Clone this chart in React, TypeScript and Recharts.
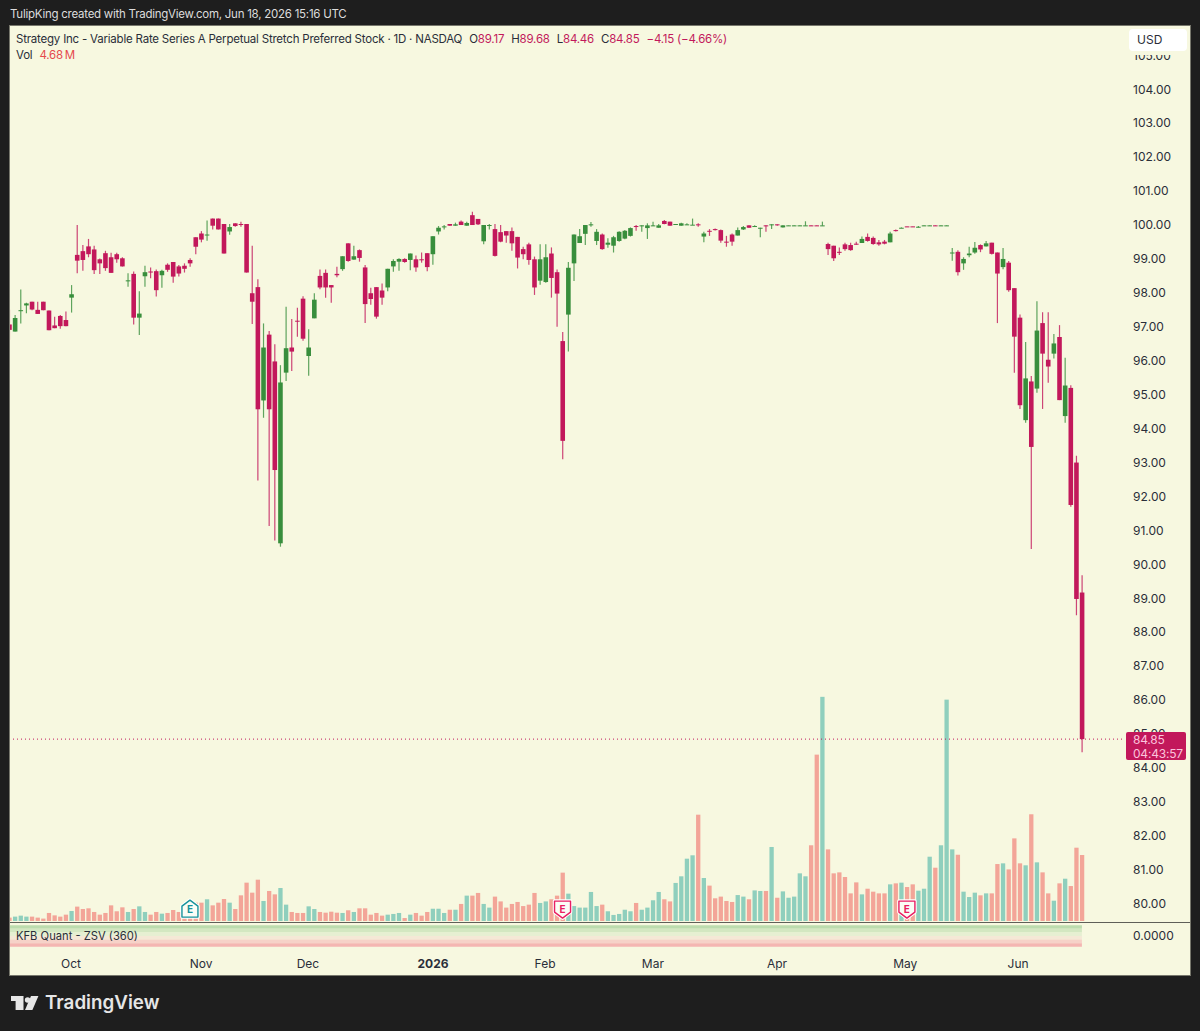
import { Area, Bar, ComposedChart, ReferenceDot, ReferenceLine, XAxis, YAxis } from "recharts";

const opens = [
    97.07, 96.86, 97.47, 97.63, 97.74, 97.5, 97.74, 97.48, 97.04, 97.32,
    97.2, 97.86, 99.12, 99.23, 99.37, 99.28, 98.99, 99.17, 99.05, 99.14,
    99.02, 98.34, 98.56, 97.27, 98.49, 98.63, 98.64, 98.52, 98.83, 98.91,
    98.78, 98.8, 98.97, 99.64, 99.75, 99.7, 100.19, 100.19, 100.03, 99.81,
    100.05, 100.03, 100.03, 97.99, 98.17, 94.83, 96.77, 95.98, 90.62, 95.65,
    96.39, 97.18, 97.83, 96.14, 97.25, 98.5, 98.59, 98.23, 98.56, 98.7,
    99.46, 98.98, 99.26, 98.75, 97.99, 98.17, 98.07, 98.16, 98.78, 98.92,
    99.0, 98.97, 98.99, 98.99, 99.17, 99.14, 99.81, 99.95, 100.03, 99.98,
    100.1, 99.98, 100.29, 100.18, 99.52, 99.99, 99.88, 99.79, 99.82, 99.82,
    99.65, 99.29, 99.43, 98.99, 98.36, 98.32, 99.16, 98.61, 96.58, 97.36,
    98.87, 99.47, 99.74, 100.0, 99.53, 99.72, 99.42, 99.39, 99.53, 99.6,
    99.68, 99.97, 99.97, 99.91, 99.97, 99.92, 100.12, 100.1, 100.01, 99.98,
    100.0, 100.0, 100.02, 99.66, 99.83, 99.88, 99.85, 99.51, 99.72, 99.69,
    99.87, 99.99, 99.96, 99.91, 99.99, 100.0, 100.02, 99.93, 99.98, 99.98,
    99.98, 99.98, 99.99, 99.99, 99.98, 99.44, 99.39, 99.21, 99.43, 99.41,
    99.45, 99.47, 99.65, 99.62, 99.49, 99.51, 99.49, 99.85, 99.91, 99.96,
    99.96, 99.94, 99.98, 99.98, 99.99, 99.98, 99.98, 99.17, 99.21, 98.87,
    99.11, 99.19, 99.41, 99.37, 99.48, 99.19, 98.76, 98.89, 98.14, 97.27,
    94.25, 95.39, 95.18, 97.11, 96.03, 96.21, 96.7, 94.37, 95.2, 93.0, 89.17,
];

const closes = [
    96.91, 97.26, 97.49, 97.69, 97.51, 97.38, 97.49, 96.9, 96.96, 97.02,
    97.02, 97.96, 98.95, 98.97, 99.14, 98.67, 98.87, 98.73, 98.59, 98.99,
    98.78, 98.37, 97.27, 97.39, 98.61, 98.6, 98.08, 98.65, 98.68, 98.48,
    98.57, 98.71, 98.87, 99.36, 99.57, 99.72, 99.98, 99.87, 99.16, 99.94,
    99.97, 100.0, 98.6, 97.74, 94.57, 96.39, 94.57, 92.78, 95.36, 96.37,
    96.27, 97.16, 96.65, 96.39, 97.8, 98.16, 98.16, 98.16, 98.52, 99.08,
    98.94, 99.08, 99.03, 97.67, 97.82, 97.3, 97.86, 98.71, 98.94, 99.0,
    98.91, 99.16, 98.75, 98.97, 98.76, 99.67, 99.92, 99.96, 99.98, 100.02,
    100.0, 100.06, 100.0, 100.02, 100.0, 100.0, 99.09, 99.51, 99.69, 99.46,
    99.04, 99.14, 98.97, 98.16, 98.99, 99.05, 98.44, 97.98, 93.64, 98.74,
    99.72, 99.67, 100.0, 100.02, 99.8, 99.29, 99.48, 99.64, 99.8, 99.83,
    99.91, 99.95, 99.99, 99.99, 99.99, 99.99, 100.03, 99.98, 100.03, 100.05,
    100.02, 100.01, 100.0, 99.75, 99.81, 99.85, 99.54, 99.49, 99.51, 99.85,
    99.94, 99.92, 99.97, 99.92, 99.97, 100.02, 100.0, 99.99, 99.99, 99.99,
    99.99, 99.99, 99.98, 99.98, 99.99, 99.29, 99.02, 99.19, 99.29, 99.26,
    99.42, 99.59, 99.53, 99.44, 99.43, 99.45, 99.75, 99.83, 99.92, 99.95,
    99.95, 99.95, 99.99, 99.99, 99.98, 99.99, 99.99, 99.19, 98.61, 99.0,
    99.16, 99.33, 99.28, 99.46, 99.15, 98.57, 99.0, 98.08, 96.71, 94.69,
    95.48, 93.46, 96.89, 96.21, 95.83, 96.51, 94.84, 95.27, 91.75, 88.98, 84.85,
];

const highs = [
    97.5, 97.35, 98.1, 97.71, 97.74, 97.74, 97.74, 97.48, 97.3, 97.35,
    97.45, 98.23, 100.0, 99.41, 99.59, 99.39, 99.01, 99.24, 99.18, 99.18,
    99.05, 98.58, 98.63, 98.05, 98.8, 98.75, 98.69, 98.68, 98.87, 98.91,
    98.82, 98.87, 99.02, 99.64, 99.82, 100.13, 100.19, 100.19, 100.03, 100.03,
    100.05, 100.1, 100.03, 99.39, 98.4, 97.1, 96.88, 96.49, 95.87, 97.59,
    97.23, 97.56, 97.9, 96.93, 97.99, 98.69, 98.69, 98.23, 98.77, 99.08,
    99.46, 99.39, 99.28, 98.82, 98.15, 98.17, 98.28, 98.71, 98.99, 99.02,
    99.02, 99.16, 99.1, 99.19, 99.17, 99.67, 99.97, 100.0, 100.03, 100.07,
    100.13, 100.1, 100.39, 100.18, 100.0, 100.03, 100.03, 100.0, 99.82, 99.93,
    99.65, 99.36, 99.48, 99.07, 99.43, 99.43, 99.34, 98.69, 96.85, 98.91,
    99.72, 99.88, 100.0, 100.09, 99.88, 99.75, 99.61, 99.68, 99.82, 99.85,
    99.93, 100.0, 99.99, 100.05, 100.1, 100.03, 100.15, 100.1, 100.03, 100.07,
    100.05, 100.19, 100.05, 99.8, 99.88, 99.9, 99.87, 99.68, 99.75, 99.93,
    99.97, 99.99, 99.99, 99.92, 99.99, 100.02, 100.02, 99.99, 99.99, 99.99,
    99.99, 100.11, 99.99, 99.99, 100.1, 99.48, 99.39, 99.34, 99.48, 99.48,
    99.51, 99.66, 99.75, 99.66, 99.56, 99.56, 99.8, 99.87, 99.93, 99.96,
    99.96, 99.97, 99.99, 99.99, 99.99, 99.99, 99.99, 99.32, 99.26, 99.05,
    99.36, 99.5, 99.43, 99.53, 99.48, 99.19, 99.32, 98.94, 98.14, 97.36,
    96.55, 95.55, 97.75, 97.43, 97.43, 96.79, 97.05, 96.09, 95.28, 93.2, 89.68,
];

const lows = [
    96.62, 96.86, 97.1, 97.4, 97.49, 97.38, 97.49, 96.9, 96.96, 96.94,
    97.02, 97.42, 98.58, 98.65, 99.05, 98.56, 98.56, 98.65, 98.59, 98.89,
    98.78, 98.18, 97.07, 96.76, 98.18, 98.43, 97.89, 98.15, 98.62, 98.3,
    98.48, 98.6, 98.77, 99.14, 99.49, 99.54, 99.87, 99.87, 99.16, 99.71,
    99.95, 99.95, 98.6, 97.08, 92.47, 94.32, 91.13, 90.7, 90.52, 95.4,
    95.7, 96.71, 96.59, 95.56, 97.25, 98.11, 97.86, 97.71, 98.46, 98.65,
    98.92, 98.98, 98.92, 97.11, 97.65, 97.24, 97.65, 98.05, 98.62, 98.65,
    98.89, 98.67, 98.62, 98.89, 98.64, 98.83, 99.72, 99.87, 99.98, 99.98,
    100.0, 99.98, 100.0, 100.0, 99.43, 99.87, 99.07, 99.49, 99.48, 99.24,
    98.72, 98.99, 98.83, 97.94, 98.24, 98.3, 97.86, 97.0, 93.1, 96.27,
    98.35, 99.47, 99.41, 99.95, 99.41, 99.27, 99.33, 99.19, 99.51, 99.58,
    99.66, 99.83, 99.8, 99.59, 99.97, 99.92, 100.02, 99.98, 100.01, 99.98,
    100.0, 100.0, 99.95, 99.49, 99.68, 99.84, 99.48, 99.36, 99.39, 99.69,
    99.85, 99.92, 99.95, 99.64, 99.8, 99.88, 99.98, 99.93, 99.98, 99.98,
    99.98, 99.98, 99.98, 99.98, 99.98, 99.12, 98.94, 99.12, 99.24, 99.24,
    99.42, 99.47, 99.51, 99.42, 99.39, 99.43, 99.49, 99.81, 99.91, 99.95,
    99.95, 99.93, 99.98, 99.98, 99.98, 99.98, 99.98, 98.95, 98.51, 98.68,
    99.05, 99.15, 99.2, 99.37, 99.13, 97.11, 98.7, 98.03, 95.65, 94.58,
    94.17, 90.45, 95.06, 94.58, 95.35, 96.07, 94.84, 94.17, 91.7, 88.5, 84.46,
];

// volume in millions of shares
const volumes = [
    0.24, 0.31, 0.38, 0.31, 0.31, 0.24, 0.17, 0.57, 0.4, 0.31,
    0.45, 0.71, 1.02, 0.85, 0.9, 0.64, 0.45, 0.57, 1.11, 0.69,
    0.97, 0.64, 0.85, 1.04, 0.64, 0.45, 0.64, 0.52, 0.57, 0.78,
    0.64, 0.47, 0.87, 1.3, 1.3, 1.54, 1.11, 1.3, 1.56, 1.3,
    0.85, 1.82, 2.72, 2.01, 2.93, 1.42, 2.13, 1.89, 2.34, 1.16,
    0.64, 0.57, 0.57, 1.04, 0.85, 0.64, 0.59, 0.66, 0.59, 0.57,
    0.76, 0.64, 0.9, 0.9, 0.45, 0.57, 0.38, 0.45, 0.5, 0.57,
    0.21, 0.45, 0.57, 0.38, 0.64, 0.87, 0.87, 0.57, 0.8, 0.8,
    1.21, 1.8, 1.8, 1.99, 1.21, 0.95, 1.73, 1.39, 0.95, 1.21,
    1.35, 1.06, 1.16, 1.99, 1.28, 1.39, 1.54, 1.8, 3.43, 1.94,
    1.06, 0.95, 0.95, 2.06, 1.06, 1.16, 0.69, 0.43, 0.5, 0.8,
    0.69, 1.28, 0.8, 0.95, 1.47, 2.06, 1.54, 1.39, 2.7, 3.17,
    4.42, 4.66, 7.54, 3.05, 2.51, 1.61, 1.73, 1.42, 1.35, 1.84,
    1.73, 1.54, 2.17, 2.13, 2.13, 5.25, 1.65, 2.1, 1.65, 1.73,
    3.38, 3.17, 5.37, 11.8, 15.9, 5.08, 3.38, 3.45, 3.12, 1.96,
    2.74, 1.89, 2.29, 2.08, 1.96, 1.96, 2.6, 2.67, 2.72, 2.41,
    2.6, 2.15, 2.29, 4.56, 3.78, 5.37, 15.7, 5.08, 4.7, 2.08,
    1.7, 2.01, 1.82, 1.96, 1.96, 4.04, 4.09, 3.66, 5.86, 4.09,
    3.95, 7.57, 4.16, 3.45, 1.96, 1.44, 2.67, 3.0, 2.48, 5.2, 4.68,
];

const priceTicks = [80, 81, 82, 83, 84, 85, 86, 87, 88, 89, 90, 91, 92, 93, 94, 95, 96, 97, 98, 99, 100, 101, 102, 103, 104, 105];
const monthLabels = ["Oct", "Nov", "Dec", "2026", "Feb", "Mar", "Apr", "May", "Jun"];
const monthBars = [10.93, 33.96, 52.9, 75.06, 94.9, 114, 136, 158.7, 178.7];
const earningsBars = [32, 98, 159];
const lastClose = 84.85;

// ZSV zones, top to bottom
const zsvEdges = [3, 2, 1, 0, -1, -2, -3];
const zsvColors = ["#bcdcae", "#d3e7c1", "#e6efd2", "#f4e8d6", "#f6d2c8", "#f4b6b2"];

const UP = "#388e3c";
const DOWN = "#c2185b";
const BG = "#f7f8e0";
const TEXT = "#2a2e39";
const FONT = "Inter, 'Noto Sans', sans-serif";

const candles = opens.map((open, i) => ({
    i,
    open,
    close: closes[i],
    high: highs[i],
    low: lows[i],
    volume: volumes[i],
}));

const zsvRows = candles.map(({ i }) => {
    const row: Record<string, number | number[]> = { i };
    zsvColors.forEach((_, z) => {
        row[`z${z}`] = [zsvEdges[z + 1], zsvEdges[z]];
    });
    return row;
});

function Candle(props: any) {
    const { x, y, width, height, payload } = props;
    const { open, close, high, low } = payload;
    const color = close >= open ? UP : DOWN;
    const span = high - low || 1;
    const yOf = (p: number) => y + ((high - p) / span) * height;
    const bodyTop = yOf(Math.max(open, close));
    const bodyH = Math.max(yOf(Math.min(open, close)) - bodyTop, 1);
    const cx = x + width / 2;
    return (
        <g>
            <line x1={cx} x2={cx} y1={y} y2={y + height} stroke={color} strokeOpacity={0.8} strokeWidth={1.2} />
            <rect x={cx - 2.3} y={bodyTop} width={4.6} height={bodyH} fill={color} />
        </g>
    );
}

function VolumeBar(props: any) {
    const { x, y, width, height, payload } = props;
    const fill = payload.close >= payload.open ? "#8fcfbd" : "#f3a598";
    return <rect x={x + width / 2 - 2.15} y={y} width={4.3} height={height} fill={fill} />;
}

function EarningsMark({ cx, cy, up }: any) {
    const color = up ? "#17929b" : "#e91e63";
    const d = up
        ? `M${cx - 8} ${cy - 3} L${cx} ${cy - 9} L${cx + 8} ${cy - 3} V${cy + 8} H${cx - 8} Z`
        : `M${cx - 8} ${cy - 8} H${cx + 8} V${cy + 3} L${cx} ${cy + 9} L${cx - 8} ${cy + 3} Z`;
    return (
        <g>
            <path d={d} fill="none" stroke="#ffffff" strokeWidth={3.5} strokeLinejoin="round" />
            <path d={d} fill="#fbfdf6" stroke={color} strokeWidth={1.4} strokeLinejoin="round" />
            <text x={cx} y={cy + 4} textAnchor="middle" fontFamily={FONT} fontSize={10} fontWeight={700} fill={color}>
                E
            </text>
        </g>
    );
}

function MonthTick({ x, y, payload }: any) {
    const label = monthLabels[monthBars.indexOf(payload.value)];
    return (
        <text
            x={x}
            y={y + 19}
            textAnchor="middle"
            fontFamily={FONT}
            fontSize={12}
            fontWeight={label === "2026" ? 700 : 400}
            fill={TEXT}
        >
            {label}
        </text>
    );
}

const xDomain = [0.124, 197.1];

export default function App() {
    return (
        <div style={{ position: "absolute", left: 0, top: 0, width: 1200, height: 1031, background: "#1e1e1e", overflow: "hidden", fontFamily: FONT }}>
            <div style={{ position: "absolute", left: 10, top: 7, fontSize: 11.5, letterSpacing: -0.25, color: "#dcdcdc", whiteSpace: "nowrap" }}>
                TulipKing created with TradingView.com, Jun 18, 2026 15:16 UTC
            </div>

            <div style={{ position: "absolute", left: 9, top: 25, width: 1180, height: 949, background: BG, border: "1px solid #77776c" }} />

            <div style={{ position: "absolute", left: 10, top: 26 }}>
                <ComposedChart width={1180} height={895} data={candles} margin={{ top: 0, right: 0, bottom: 0, left: 0 }}>
                    <XAxis dataKey="i" type="number" domain={xDomain} allowDataOverflow hide />
                    <XAxis xAxisId="vol" dataKey="i" type="number" domain={xDomain} allowDataOverflow hide />
                    <YAxis
                        orientation="right"
                        width={68}
                        domain={[79.49, 105.865]}
                        ticks={priceTicks}
                        interval={0}
                        allowDataOverflow
                        axisLine={false}
                        tickLine={false}
                        tickSize={0}
                        tickMargin={11}
                        tickFormatter={(v: number) => v.toFixed(2)}
                        tick={{ fontSize: 12, fill: TEXT, fontFamily: FONT }}
                    />
                    <YAxis yAxisId="vol" domain={[0, 63.48]} hide />
                    <Bar xAxisId="vol" yAxisId="vol" dataKey="volume" barSize={4} shape={VolumeBar} isAnimationActive={false} />
                    <ReferenceLine y={lastClose} stroke={DOWN} strokeWidth={1} strokeDasharray="1 3" />
                    <Bar dataKey={(d: any) => [d.low, d.high]} barSize={4} shape={Candle} isAnimationActive={false} />
                    {earningsBars.map((bar, n) => (
                        <ReferenceDot
                            key={bar}
                            x={bar}
                            y={79.84}
                            ifOverflow="visible"
                            shape={(p: any) => <EarningsMark cx={p.cx} cy={p.cy} up={n === 0} />}
                        />
                    ))}
                </ComposedChart>
            </div>

            <div style={{ position: "absolute", left: 10, top: 922, width: 1180, height: 1, background: "#5f5f58" }} />

            <div style={{ position: "absolute", left: 10, top: 922 }}>
                <ComposedChart width={1180} height={53} data={zsvRows} margin={{ top: 0, right: 0, bottom: 0, left: 0 }}>
                    <XAxis
                        dataKey="i"
                        type="number"
                        domain={xDomain}
                        allowDataOverflow
                        height={28}
                        ticks={monthBars}
                        interval={0}
                        axisLine={false}
                        tickLine={false}
                        tickSize={0}
                        tick={MonthTick}
                    />
                    <YAxis
                        orientation="right"
                        width={68}
                        domain={[-3.06, 3.89]}
                        ticks={[0]}
                        interval={0}
                        axisLine={false}
                        tickLine={false}
                        tickSize={0}
                        tickMargin={11}
                        tickFormatter={(v: number) => v.toFixed(4)}
                        tick={{ fontSize: 12, fill: TEXT, fontFamily: FONT }}
                    />
                    {zsvColors.map((color, z) => (
                        <Area key={color} dataKey={`z${z}`} type="linear" stroke="none" fill={color} fillOpacity={1} dot={false} activeDot={false} isAnimationActive={false} />
                    ))}
                </ComposedChart>
            </div>

            <div style={{ position: "absolute", left: 16, top: 929, fontSize: 11.2, color: TEXT, whiteSpace: "nowrap" }}>KFB Quant - ZSV (360)</div>

            <div style={{ position: "absolute", left: 16, top: 32, fontSize: 11.5, letterSpacing: -0.21, color: TEXT, whiteSpace: "nowrap", lineHeight: "14px" }}>
                Strategy Inc - Variable Rate Series A Perpetual Stretch Preferred Stock · 1D · NASDAQ
                <span style={{ marginLeft: 7 }}>O</span>
                <span style={{ color: DOWN }}>89.17</span>
                <span style={{ marginLeft: 7 }}>H</span>
                <span style={{ color: DOWN }}>89.68</span>
                <span style={{ marginLeft: 7 }}>L</span>
                <span style={{ color: DOWN }}>84.46</span>
                <span style={{ marginLeft: 7 }}>C</span>
                <span style={{ color: DOWN }}>84.85</span>
                <span style={{ color: DOWN, marginLeft: 7 }}>−4.15 (−4.66%)</span>
            </div>
            <div style={{ position: "absolute", left: 16, top: 48, fontSize: 11.5, letterSpacing: -0.2, color: TEXT, whiteSpace: "nowrap", lineHeight: "14px" }}>
                Vol<span style={{ color: "#e5484d", marginLeft: 7 }}>4.68{"\u2009"}M</span>
            </div>

            <div style={{ position: "absolute", left: 1125, top: 26, width: 64, height: 29, background: BG }} />
            <div style={{ position: "absolute", left: 1129, top: 29, width: 58, height: 22, background: "#ffffff", borderRadius: 4, fontSize: 12, lineHeight: "22px", paddingLeft: 8, boxSizing: "border-box", color: TEXT }}>
                USD
            </div>

            <div style={{ position: "absolute", left: 1126, top: 732, width: 60, height: 28, background: DOWN, borderRadius: 2, fontSize: 12, letterSpacing: -0.2, lineHeight: "13.5px", paddingLeft: 7, paddingTop: 1, boxSizing: "border-box", color: "#fbc4dc" }}>
                <div>84.85</div>
                <div>04:43:57</div>
            </div>

            <svg style={{ position: "absolute", left: 0, top: 985 }} width={46} height={40}>
                <path d="M11 11 H23.5 V25 H15.6 V16 H11 Z" fill="#e6e6e6" />
                <circle cx={27.6} cy={15} r={2.8} fill="#e6e6e6" />
                <path d="M31 11 H38.4 L32.4 25 H25 Z" fill="#e6e6e6" />
            </svg>
            <div style={{ position: "absolute", left: 45, top: 990, fontSize: 18.8, fontWeight: 600, color: "#e6e6e6", lineHeight: "26px", whiteSpace: "nowrap" }}>TradingView</div>
        </div>
    );
}
